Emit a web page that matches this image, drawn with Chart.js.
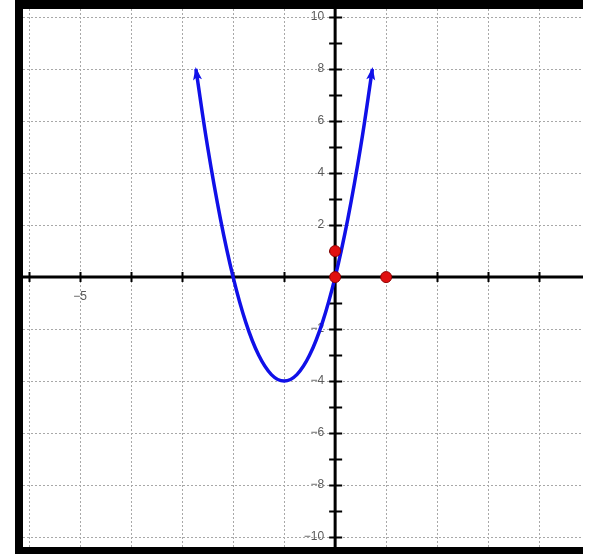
<!DOCTYPE html>
<html>
<head>
<meta charset="utf-8">
<script src="https://cdn.jsdelivr.net/npm/chart.js@4/dist/chart.umd.min.js"></script>
<style>
  html, body { margin: 0; padding: 0; background: #fff; }
  #wrap { width: 591px; height: 554px; }
</style>
</head>
<body>
<div id="wrap"><canvas id="c" width="591" height="554"></canvas></div>
<script>
// Parabola points (x, y)
const curveX = [-2.73, -2.5, -2.25, -2, -1.75, -1.5, -1.25, -1, -0.75, -0.5, -0.25, 0, 0.25, 0.5, 0.73];
const curveY = [8, 5, 2.25, 0, -1.75, -3, -3.75, -4, -3.75, -3, -1.75, 0, 2.25, 5, 8];
// Red marked points
const pointX = [0, 0, 1];
const pointY = [1, 0, 0];
// Axis labels
const yTickLabels = [10, 8, 6, 4, 2, -2, -4, -6, -8, -10];
const xTickLabels = [-5];
const xMinorTicks = [-6, -5, -4, -3, -2, -1, 1, 2, 3, 4];
const yMinorTicks = [-10, -9, -8, -7, -6, -5, -4, -3, -2, -1, 1, 2, 3, 4, 5, 6, 7, 8, 9, 10];

const curveData = curveX.map((x, i) => ({ x, y: curveY[i] }));
const pointData = pointX.map((x, i) => ({ x, y: pointY[i] }));

const axesPlugin = {
  id: 'axesPlugin',
  beforeDatasetsDraw(chart) {
    const { ctx, chartArea: a, scales: { x, y } } = chart;
    const x0 = x.getPixelForValue(0);
    const y0 = y.getPixelForValue(0);
    ctx.save();
    ctx.strokeStyle = '#000';
    ctx.lineWidth = 3;
    ctx.beginPath();
    ctx.moveTo(a.left, y0); ctx.lineTo(a.right, y0);
    ctx.moveTo(x0, a.top); ctx.lineTo(x0, a.bottom);
    ctx.stroke();
    // tick marks
    ctx.lineWidth = 2;
    ctx.beginPath();
    yMinorTicks.forEach(v => {
      const py = Math.round(y.getPixelForValue(v)) + 0.5;
      ctx.moveTo(x0 - 6, py); ctx.lineTo(x0 + 7, py);
    });
    xMinorTicks.forEach(v => {
      const px = Math.round(x.getPixelForValue(v)) + 0.5;
      ctx.moveTo(px, y0 - 5); ctx.lineTo(px, y0 + 5);
    });
    ctx.stroke();
    // labels
    ctx.fillStyle = '#5a5a5a';
    ctx.font = '12px "Liberation Sans", Arial, sans-serif';
    ctx.textAlign = 'right';
    ctx.textBaseline = 'middle';
    yTickLabels.forEach(v => {
      const label = v < 0 ? '\u2212' + Math.abs(v) : String(v);
      ctx.fillText(label, x0 - 11, y.getPixelForValue(v));
    });
    ctx.textAlign = 'center';
    xTickLabels.forEach(v => {
      const label = v < 0 ? '\u2212' + Math.abs(v) : String(v);
      ctx.fillText(label, x.getPixelForValue(v), y0 + 20);
    });
    ctx.restore();
  },
  afterDatasetDraw(chart, args) {
    if (args.index !== 0) return;
    const { ctx } = chart;
    const pts = args.meta.data;
    const drawArrow = (tip, from) => {
      const ang = Math.atan2(tip.y - from.y, tip.x - from.x);
      const len = 11, half = 4.5;
      ctx.save();
      ctx.fillStyle = '#1010e8';
      ctx.translate(tip.x, tip.y);
      ctx.rotate(ang);
      ctx.beginPath();
      ctx.moveTo(2, 0);
      ctx.lineTo(-len, -half);
      ctx.lineTo(-len + 3, 0);
      ctx.lineTo(-len, half);
      ctx.closePath();
      ctx.fill();
      ctx.restore();
    };
    drawArrow(pts[0], pts[1]);
    drawArrow(pts[pts.length - 1], pts[pts.length - 2]);
  },
  afterDraw(chart) {
    const { ctx, chartArea: a } = chart;
    ctx.save();
    ctx.fillStyle = '#000';
    ctx.fillRect(15, 0, a.right - 15, a.top);
    ctx.fillRect(15, 0, a.left - 15, chart.height);
    ctx.fillRect(15, a.bottom, a.right - 15, chart.height - a.bottom);
    ctx.restore();
  }
};

new Chart(document.getElementById('c'), {
  type: 'scatter',
  data: {
    datasets: [
      {
        data: curveData,
        showLine: true,
        borderColor: '#1010e8',
        borderWidth: 3.5,
        pointRadius: 0,
        tension: 0.4,
        fill: false,
        order: 2
      },
      {
        data: pointData,
        showLine: false,
        pointRadius: 5.5,
        pointBackgroundColor: '#e01010',
        pointBorderColor: '#900000',
        pointBorderWidth: 1,
        order: 1
      }
    ]
  },
  options: {
    responsive: false,
    animation: false,
    devicePixelRatio: 1,
    layout: { padding: { left: 23, top: 9, right: 8, bottom: 7 } },
    plugins: { legend: { display: false }, tooltip: { enabled: false } },
    scales: {
      x: {
        type: 'linear',
        min: -6.12,
        max: 4.86,
        border: { display: false, dash: [2, 2] },
        ticks: { display: false, stepSize: 1, includeBounds: false },
        grid: { color: '#a8a8a8', lineWidth: 1, drawTicks: false, tickLength: 0 }
      },
      y: {
        type: 'linear',
        min: -10.38,
        max: 10.31,
        border: { display: false, dash: [2, 2] },
        ticks: { display: false, stepSize: 2, includeBounds: false },
        grid: { color: '#a8a8a8', lineWidth: 1, drawTicks: false, tickLength: 0 }
      }
    }
  },
  plugins: [axesPlugin]
});
</script>
</body>
</html>
